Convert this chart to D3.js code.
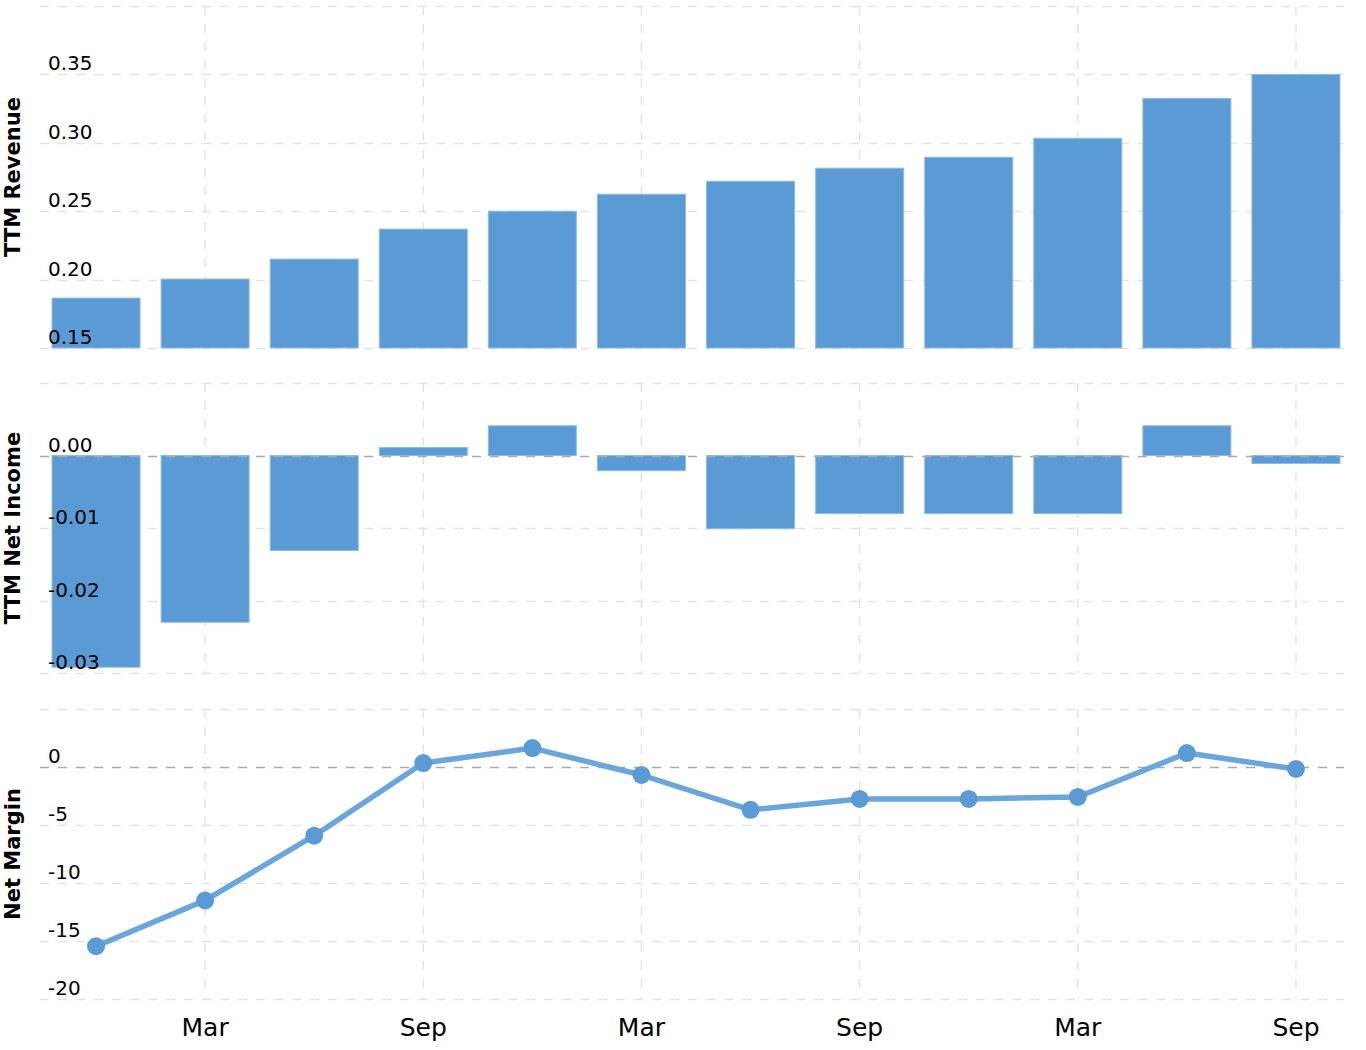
<!DOCTYPE html>
<html>
<head>
<meta charset="utf-8">
<script src="https://cdn.jsdelivr.net/npm/d3@7"></script>
<style>
  html, body { margin: 0; padding: 0; background: #fff; }
  svg { display: block; font-family: "DejaVu Sans", Verdana, sans-serif; }
</style>
</head>
<body>
<svg id="chart" width="1366" height="1050"></svg>
<script>
// ---- data ----
const quarters = ["Dec", "Mar", "Jun", "Sep", "Dec", "Mar", "Jun", "Sep", "Dec", "Mar", "Jun", "Sep"];
const revenue = [0.1865, 0.2004, 0.215, 0.2369, 0.25, 0.2624, 0.2719, 0.2814, 0.2894, 0.3033, 0.3325, 0.35];
const netIncome = [-0.0292, -0.0230, -0.0131, 0.0011, 0.0041, -0.0021, -0.0101, -0.0080, -0.0080, -0.0080, 0.0041, -0.0011];
const netMargin = [-15.45, -11.5, -5.92, 0.34, 1.63, -0.69, -3.69, -2.75, -2.75, -2.58, 1.2, -0.17];
const xTickLabels = ["Mar", "Sep"];
const revTicks = [0.15, 0.20, 0.25, 0.30, 0.35];
const niTicks = [0.00, -0.01, -0.02, -0.03];
const nmTicks = [0, -5, -10, -15, -20];

// ---- layout ----
const svg = d3.select("#chart");
const left = 40, right = 1344;
const barColor = "#5b9bd5";
const gridColor = "#e3e3e3";
const zeroColor = "#aaaaaa";
const dash = "9,9";

const idx = quarters.map((d, i) => i);
const x = d3.scaleBand().domain(idx).range([41.5, 1350.5]).paddingInner(0.193).paddingOuter(0.0965);
const cx = i => x(i) + x.bandwidth() / 2;
const vTicks = idx.filter(i => xTickLabels.includes(quarters[i]));

const panels = [
  { title: "TTM Revenue", y: d3.scaleLinear().domain([0.15, 0.40]).range([348, 6]), grid: [0.15,0.2,0.25,0.3,0.35,0.4], ticks: revTicks, fmt: d3.format(".2f") },
  { title: "TTM Net Income", y: d3.scaleLinear().domain([-0.03, 0.01]).range([673, 383]), grid: [-0.03,-0.02,-0.01,0.01], ticks: niTicks, fmt: d3.format(".2f") },
  { title: "Net Margin", y: d3.scaleLinear().domain([-20, 5]).range([999, 709]), grid: [-20,-15,-10,-5,5], ticks: nmTicks, fmt: d3.format("d") }
];

function drawGrid(p) {
  const g = svg.append("g");
  const [y0, y1] = p.y.range();
  g.selectAll("line.v").data(vTicks).join("line")
    .attr("x1", cx).attr("x2", cx).attr("y1", y1).attr("y2", y0)
    .attr("stroke", gridColor).attr("stroke-width", 1.5).attr("stroke-dasharray", dash);
  g.selectAll("line.h").data(p.grid).join("line")
    .attr("x1", left).attr("x2", right)
    .attr("y1", d => Math.round(p.y(d)) + 0.5).attr("y2", d => Math.round(p.y(d)) + 0.5)
    .attr("stroke", gridColor).attr("stroke-width", 1.5).attr("stroke-dasharray", dash);
}
function drawZero(p) {
  svg.append("line").attr("x1", left).attr("x2", right)
    .attr("y1", Math.round(p.y(0)) + 0.5).attr("y2", Math.round(p.y(0)) + 0.5)
    .attr("stroke", zeroColor).attr("stroke-width", 1.5).attr("stroke-dasharray", dash);
}
function drawLabels(p) {
  svg.append("g").selectAll("text").data(p.ticks).join("text")
    .attr("x", 48).attr("y", d => p.y(d) - 4)
    .attr("font-size", 20).attr("fill", "#000")
    .text(d => p.fmt(d).replace("−", "-"));
  const [y0, y1] = p.y.range();
  svg.append("text")
    .attr("transform", `translate(20,${(y0 + y1) / 2}) rotate(-90)`)
    .attr("text-anchor", "middle").attr("font-size", 21).attr("font-weight", "bold").attr("fill", "#000")
    .text(p.title);
}

// Panel 1: revenue bars
const p1 = panels[0];
drawGrid(p1);
svg.append("g").selectAll("rect").data(revenue).join("rect")
  .attr("x", (d, i) => x(i)).attr("width", x.bandwidth())
  .attr("y", d => p1.y(d)).attr("height", d => p1.y(0.15) - p1.y(d))
  .attr("fill", barColor).attr("stroke", "#8fbce6").attr("stroke-width", 1);
drawLabels(p1);

// Panel 2: net income bars
const p2 = panels[1];
drawGrid(p2);
svg.append("g").selectAll("rect").data(netIncome).join("rect")
  .attr("x", (d, i) => x(i)).attr("width", x.bandwidth())
  .attr("y", d => p2.y(Math.max(0, d))).attr("height", d => Math.abs(p2.y(d) - p2.y(0)))
  .attr("fill", barColor).attr("stroke", "#8fbce6").attr("stroke-width", 1);
drawZero(p2);
drawLabels(p2);

// Panel 3: net margin line
const p3 = panels[2];
drawGrid(p3);
drawZero(p3);
svg.append("path").datum(netMargin)
  .attr("d", d3.line().x((d, i) => cx(i)).y(d => p3.y(d)))
  .attr("fill", "none").attr("stroke", "#6aa6dc").attr("stroke-width", 5.5).attr("stroke-linejoin", "round");
svg.append("g").selectAll("circle").data(netMargin).join("circle")
  .attr("cx", (d, i) => cx(i)).attr("cy", d => p3.y(d)).attr("r", 9)
  .attr("fill", barColor);
drawLabels(p3);

// x-axis labels
svg.append("g").selectAll("text").data(vTicks).join("text")
  .attr("x", cx).attr("y", 1036).attr("text-anchor", "middle")
  .attr("font-size", 25).attr("fill", "#000")
  .text(i => quarters[i]);
</script>
</body>
</html>
